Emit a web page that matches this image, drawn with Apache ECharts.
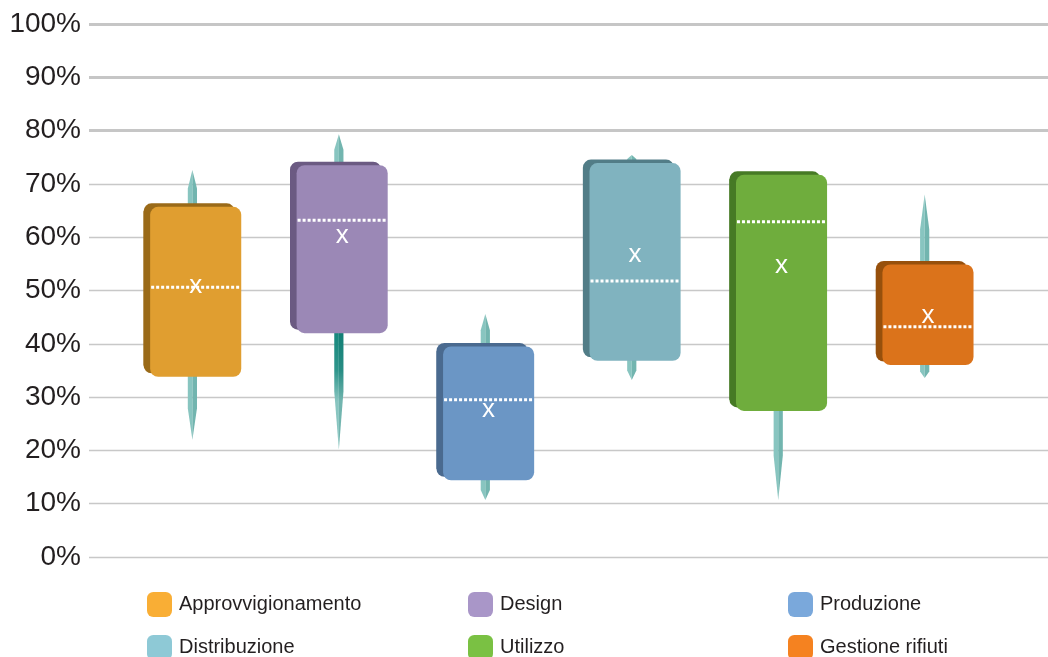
<!DOCTYPE html>
<html>
<head>
<meta charset="utf-8">
<script src="https://cdn.jsdelivr.net/npm/echarts@6/dist/echarts.min.js"></script>
<style>
html,body{margin:0;padding:0;background:#fff;}
#chart{width:1048px;height:657px;}
</style>
</head>
<body>
<div id="chart"></div>
<script>
// ---- data (percent) ----
const categories = ['Approvvigionamento', 'Design', 'Produzione', 'Distribuzione', 'Utilizzo', 'Gestione rifiuti'];
const minValues    = [22.0, 20.1, 10.7, 33.2, 10.7, 33.6];
const q1Values     = [33.8, 42.0, 14.4, 36.8, 27.4, 36.0];
const medianValues = [50.6, 63.2, 29.5, 51.8, 62.9, 43.2];
const q3Values     = [65.7, 73.5, 39.5, 73.9, 71.7, 54.9];
const maxValues    = [72.6, 79.3, 45.6, 75.4, 71.7, 68.0];
const meanValues   = [50.5, 59.8, 27.3, 56.3, 54.3, 44.8];
const yTicks = [0, 10, 20, 30, 40, 50, 60, 70, 80, 90, 100];
const strongGridValues = [80, 90, 100];

// ---- styles ----
const frontColors  = ['#e09e30', '#9b88b6', '#6b96c5', '#80b3bf', '#6fad3d', '#db731b'];
const sideColors   = ['#9a6a18', '#6b5a82', '#4a6a8f', '#527d87', '#467a25', '#97500c'];
const legendColors = ['#f9ae35', '#a996c8', '#7aa8db', '#8ec9d6', '#7ac143', '#f58220'];
const darkWhisker  = [false, true, false, false, false, false];
const FONT = '"Liberation Sans", Arial, sans-serif';

function renderBox(params, api) {
  const i = api.value(0);
  const idx = params.seriesIndex;
  const pMin = api.coord([i, api.value(1)]);
  const pQ1 = api.coord([i, api.value(2)]);
  const pMed = api.coord([i, api.value(3)]);
  const pQ3 = api.coord([i, api.value(4)]);
  const pMax = api.coord([i, api.value(5)]);
  const pMean = api.coord([i, api.value(6)]);
  const band = api.size([1, 0])[0];
  const depthX = band * 0.045;
  const depthY = 3.5;
  const totalW = band * 0.667;
  const cx = pQ1[0];
  const fl = cx - totalW / 2 + depthX;
  const fw = totalW - depthX;
  const top = pQ3[1], bot = pQ1[1];
  const hw = 4.6;
  const light = '#88c5c0', dark = '#72b5af';
  const children = [];

  // top whisker
  if (pMax[1] < top - 1) {
    const len = top - pMax[1];
    const mid = top - len * 0.5;
    children.push({type: 'polygon', shape: {points: [[cx - hw, top + 5], [cx - hw, mid], [cx, pMax[1]], [cx, top + 5]]}, style: {fill: light}});
    children.push({type: 'polygon', shape: {points: [[cx, top + 5], [cx, pMax[1]], [cx + hw, mid], [cx + hw, top + 5]]}, style: {fill: dark}});
  }
  // bottom whisker
  if (pMin[1] > bot + 1) {
    const len = pMin[1] - bot;
    const mid = bot + len * 0.5;
    let fl1 = light, fl2 = dark;
    if (darkWhisker[idx]) {
      fl1 = {type: 'linear', x: 0, y: 0, x2: 0, y2: 1, colorStops: [{offset: 0, color: '#13867b'}, {offset: 0.35, color: '#2f968c'}, {offset: 0.6, color: light}, {offset: 1, color: light}]};
      fl2 = {type: 'linear', x: 0, y: 0, x2: 0, y2: 1, colorStops: [{offset: 0, color: '#0f7d73'}, {offset: 0.35, color: '#288d84'}, {offset: 0.6, color: dark}, {offset: 1, color: dark}]};
    }
    children.push({type: 'polygon', shape: {points: [[cx - hw, bot - 5], [cx - hw, mid], [cx, pMin[1]], [cx, bot - 5]]}, style: {fill: fl1}});
    children.push({type: 'polygon', shape: {points: [[cx, bot - 5], [cx, pMin[1]], [cx + hw, mid], [cx + hw, bot - 5]]}, style: {fill: fl2}});
  }
  // back / side face
  children.push({type: 'rect', shape: {x: fl - depthX, y: top - depthY, width: fw, height: bot - top, r: 8}, style: {fill: sideColors[idx]}});
  children.push({type: 'polygon', shape: {points: [[fl - depthX, top - depthY + 8], [fl, top + 8], [fl, bot - 8], [fl - depthX, bot - depthY - 8]]}, style: {fill: sideColors[idx]}});
  // front face
  children.push({type: 'rect', shape: {x: fl, y: top, width: fw, height: bot - top, r: 8}, style: {fill: frontColors[idx]}});
  // median
  children.push({type: 'line', shape: {x1: fl + 1, y1: pMed[1], x2: fl + fw - 1, y2: pMed[1]}, style: {stroke: '#ffffff', lineWidth: 3, lineDash: [3, 2]}});
  // mean
  children.push({type: 'text', x: fl + fw / 2, y: pMean[1] - 2, style: {text: 'x', fill: '#ffffff', font: '26px "Liberation Sans", Arial, sans-serif', align: 'center', verticalAlign: 'middle'}});
  return {type: 'group', children: children};
}

const series = categories.map(function (name, i) {
  const s = {
    name: name,
    type: 'custom',
    renderItem: renderBox,
    clip: false,
    itemStyle: {color: legendColors[i]},
    encode: {x: 0, y: [1, 2, 3, 4, 5, 6]},
    data: [[i, minValues[i], q1Values[i], medianValues[i], q3Values[i], maxValues[i], meanValues[i]]],
    z: 5
  };
  if (i === 0) {
    s.markLine = {
      silent: true,
      symbol: ['none', 'none'],
      label: {show: false},
      lineStyle: {color: '#c6c6c6', width: 3, type: 'solid'},
      data: strongGridValues.map(function (v) { return {yAxis: v}; }),
      z: 1
    };
  }
  return s;
});

function legendCol(names, left) {
  return {
    orient: 'vertical',
    left: left,
    top: 592,
    height: 120,
    width: 300,
    itemWidth: 25,
    itemHeight: 25,
    itemGap: 18,
    padding: 0,
    icon: 'roundRect',
    selectedMode: false,
    data: names,
    textStyle: {fontSize: 20, color: '#231f20', fontFamily: FONT, padding: [0, 0, 0, 2], lineHeight: 25}
  };
}

const chart = echarts.init(document.getElementById('chart'), null, {renderer: 'canvas'});
chart.setOption({
  animation: false,
  backgroundColor: '#ffffff',
  grid: {left: 89, right: 0, top: 24, bottom: 100, containLabel: false},
  xAxis: {type: 'value', min: -0.706, max: 5.842, show: false, splitLine: {show: false}},
  yAxis: {
    type: 'value', min: 0, max: 100, interval: 10,
    axisLine: {show: false}, axisTick: {show: false},
    axisLabel: {
      margin: 8, fontSize: 28, color: '#231f20',
      fontFamily: FONT,
      formatter: function (v) { return yTicks.indexOf(v) >= 0 ? v + '%' : ''; }
    },
    splitLine: {lineStyle: {color: '#c8c8c8', width: 1.3}}
  },
  legend: [
    legendCol([categories[0], categories[3]], 147),
    legendCol([categories[1], categories[4]], 468),
    legendCol([categories[2], categories[5]], 788)
  ],
  series: series
});
</script>
</body>
</html>
